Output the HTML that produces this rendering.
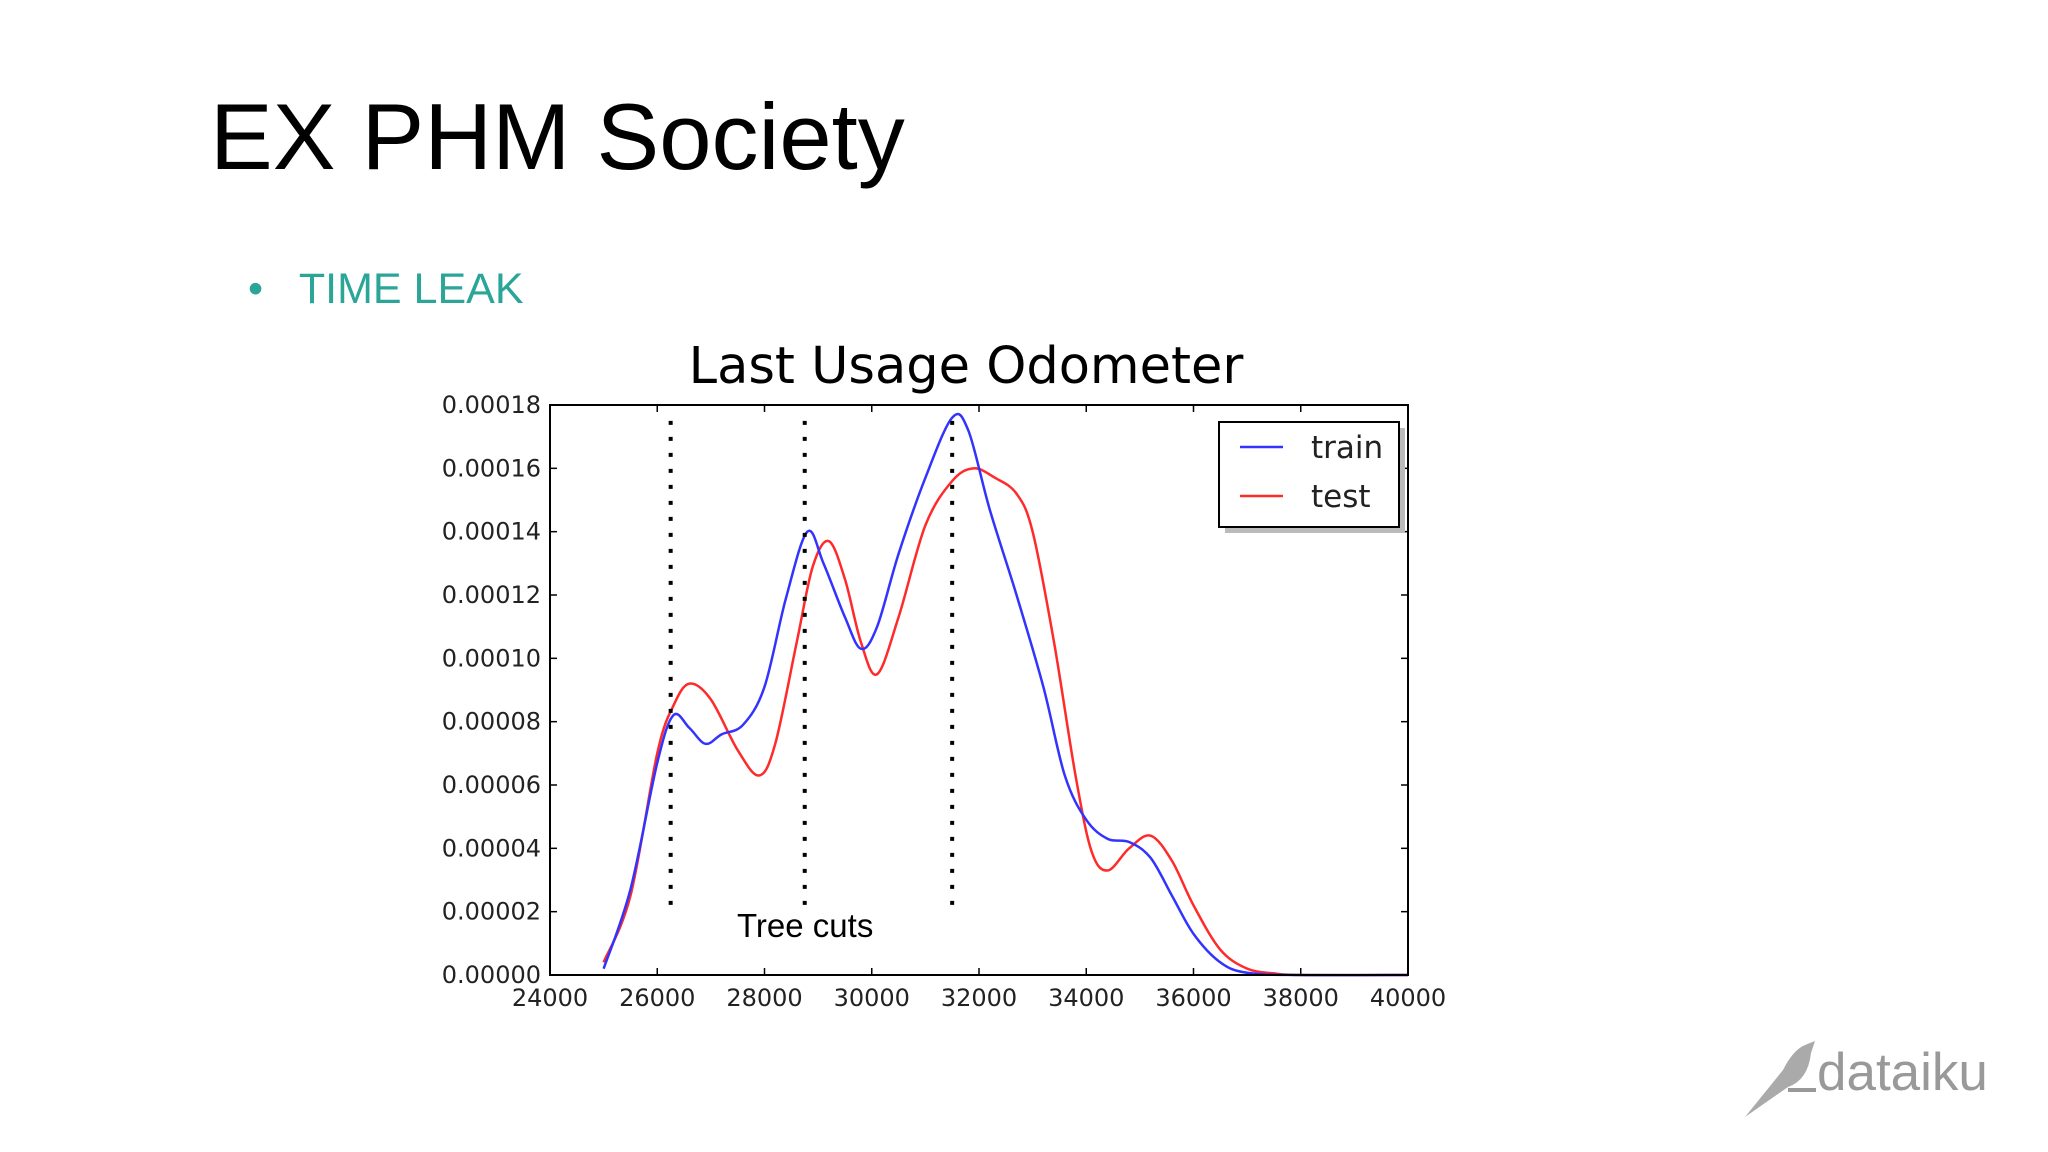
<!DOCTYPE html>
<html><head><meta charset="utf-8"><style>
body{margin:0;width:2048px;height:1152px;background:#fff;overflow:hidden;position:relative;font-family:"Liberation Sans",sans-serif}
#t{position:absolute;left:210px;top:90px;font-size:94px;color:#000;line-height:1}
#b{position:absolute;left:248px;top:268px;font-size:43px;color:#2aa598;line-height:1}
</style></head><body>
<div id="t">EX PHM Society</div>
<div id="b">•&nbsp;&nbsp;&nbsp;TIME LEAK</div>
<svg id="c" width="2048" height="1152" style="position:absolute;left:0;top:0"></svg>
<script>
const xTicks=[24000,26000,28000,30000,32000,34000,36000,38000,40000];
const yTicks=[0,0.00002,0.00004,0.00006,0.00008,0.0001,0.00012,0.00014,0.00016,0.00018];
const yLabels=["0.00000","0.00002","0.00004","0.00006","0.00008","0.00010","0.00012","0.00014","0.00016","0.00018"];
const trainX=[25000,25500,26000,26300,26600,26900,27200,27600,28000,28400,28800,29100,29500,29800,30100,30500,31000,31500,31800,32200,32700,33200,33600,34000,34400,34800,35200,35600,36000,36500,37000,38000,40000];
const trainY=[0.000002,0.000027,0.000067,0.000082,0.000078,0.000073,0.000076,0.000079,0.000091,0.000119,0.00014,0.00013,0.000113,0.000103,0.00011,0.000133,0.000157,0.000176,0.000172,0.000147,0.00012,0.000091,0.000063,0.000049,0.000043,0.000042,0.000037,0.000025,0.000013,0.000004,0.0000007,0,0];
const testX=[25000,25500,26000,26300,26600,27000,27500,27900,28200,28600,28900,29200,29500,29800,30100,30500,31000,31500,31900,32300,32700,33000,33400,33800,34100,34400,34800,35200,35600,36000,36500,37000,37500,38000,40000];
const testY=[0.000004,0.000025,0.00007,0.000085,0.000092,0.000087,0.000071,0.000063,0.000073,0.000105,0.000129,0.000137,0.000125,0.000105,0.000095,0.000113,0.000142,0.000156,0.00016,0.000157,0.000152,0.00014,0.000105,0.000063,0.000039,0.000033,0.00004,0.000044,0.000036,0.000022,0.000008,0.000002,0.0000005,0,0];
const cuts=[26250,28750,31500];
const L=550,R=1408,T=405,B=975;
const sx=v=>L+(v-24000)/16000*(R-L), sy=v=>B-v/0.00018*(B-T);
const svg=document.getElementById('c'),NS='http://www.w3.org/2000/svg';
function mk(tag,at,txt){const e=document.createElementNS(NS,tag);for(const k in at)e.setAttribute(k,at[k]);if(txt!=null)e.textContent=txt;svg.appendChild(e);return e;}
const F='"DejaVu Sans","Liberation Sans",sans-serif';
let e=mk('text',{x:966,y:383,'text-anchor':'middle','font-size':51,'font-family':F,fill:'#000'},'Last Usage Odometer');


xTicks.forEach(v=>{const x=sx(v);
 let t=mk('line',{x1:x,x2:x,y1:B,y2:B-7,stroke:'#000','stroke-width':1.5});
 
 mk('line',{x1:x,x2:x,y1:T,y2:T+7,stroke:'#000','stroke-width':1.5});
 let l=mk('text',{x:x,y:1006,'text-anchor':'middle','font-size':24,'font-family':F,fill:'#222'},String(v));
 });
yTicks.forEach((v,i)=>{const y=sy(v);
 let t=mk('line',{x1:L,x2:L+7,y1:y,y2:y,stroke:'#000','stroke-width':1.5});
 
 mk('line',{x1:R,x2:R-7,y1:y,y2:y,stroke:'#000','stroke-width':1.5});
 let l=mk('text',{x:541,y:y+8,'text-anchor':'end','font-size':24,'font-family':F,fill:'#222'},yLabels[i]);
 });
function path(xs,ys){const p=xs.map((x,i)=>[sx(x),sy(ys[i])]);let d='M'+p[0][0]+','+p[0][1];
 for(let i=0;i<p.length-1;i++){const p0=p[i-1]||p[i],p1=p[i],p2=p[i+1],p3=p[i+2]||p2;
 d+=` C${p1[0]+(p2[0]-p0[0])/6},${p1[1]+(p2[1]-p0[1])/6} ${p2[0]-(p3[0]-p1[0])/6},${p2[1]-(p3[1]-p1[1])/6} ${p2[0]},${p2[1]}`;}return d;}
e=mk('path',{d:path(testX,testY),fill:'none',stroke:'#ff2a2a','stroke-width':2.5});

e=mk('path',{d:path(trainX,trainY),fill:'none',stroke:'#3333ff','stroke-width':2.5});

cuts.forEach(v=>{let c=mk('line',{x1:sx(v),x2:sx(v),y1:sy(0.000175),y2:sy(0.00002),stroke:'#000','stroke-width':4,'stroke-dasharray':'4 12'});
 });
e=mk('rect',{x:L,y:T,width:R-L,height:B-T,fill:'none',stroke:'#000','stroke-width':2});

e=mk('text',{x:737,y:937,'font-size':33,'font-family':'"Liberation Sans",sans-serif',fill:'#000'},'Tree cuts');

mk('rect',{x:1225,y:428,width:180,height:105,fill:'#bbb'});
e=mk('rect',{x:1219,y:422,width:180,height:105,fill:'#fff',stroke:'#000','stroke-width':2});

mk('line',{x1:1240,x2:1283,y1:447,y2:447,stroke:'#3333ff','stroke-width':2.5});
e=mk('text',{x:1311,y:458,'font-size':31,'font-family':F,fill:'#222'},'train');

mk('line',{x1:1240,x2:1283,y1:496,y2:496,stroke:'#ff2a2a','stroke-width':2.5});
e=mk('text',{x:1311,y:507,'font-size':31,'font-family':F,fill:'#222'},'test');

e=mk('path',{d:'M1745,1117 L1783,1070 Q1793,1050 1805,1045 L1815,1041 L1811,1053 Q1808,1080 1788,1087 Z',fill:'#aaa'});

mk('rect',{x:1788,y:1088,width:28,height:4,fill:'#999'});
e=mk('text',{x:1817,y:1090,'font-size':53,'font-family':'"Liberation Sans Narrow","Liberation Sans",sans-serif',fill:'#999'},'dataiku');

</script>
</body></html>
